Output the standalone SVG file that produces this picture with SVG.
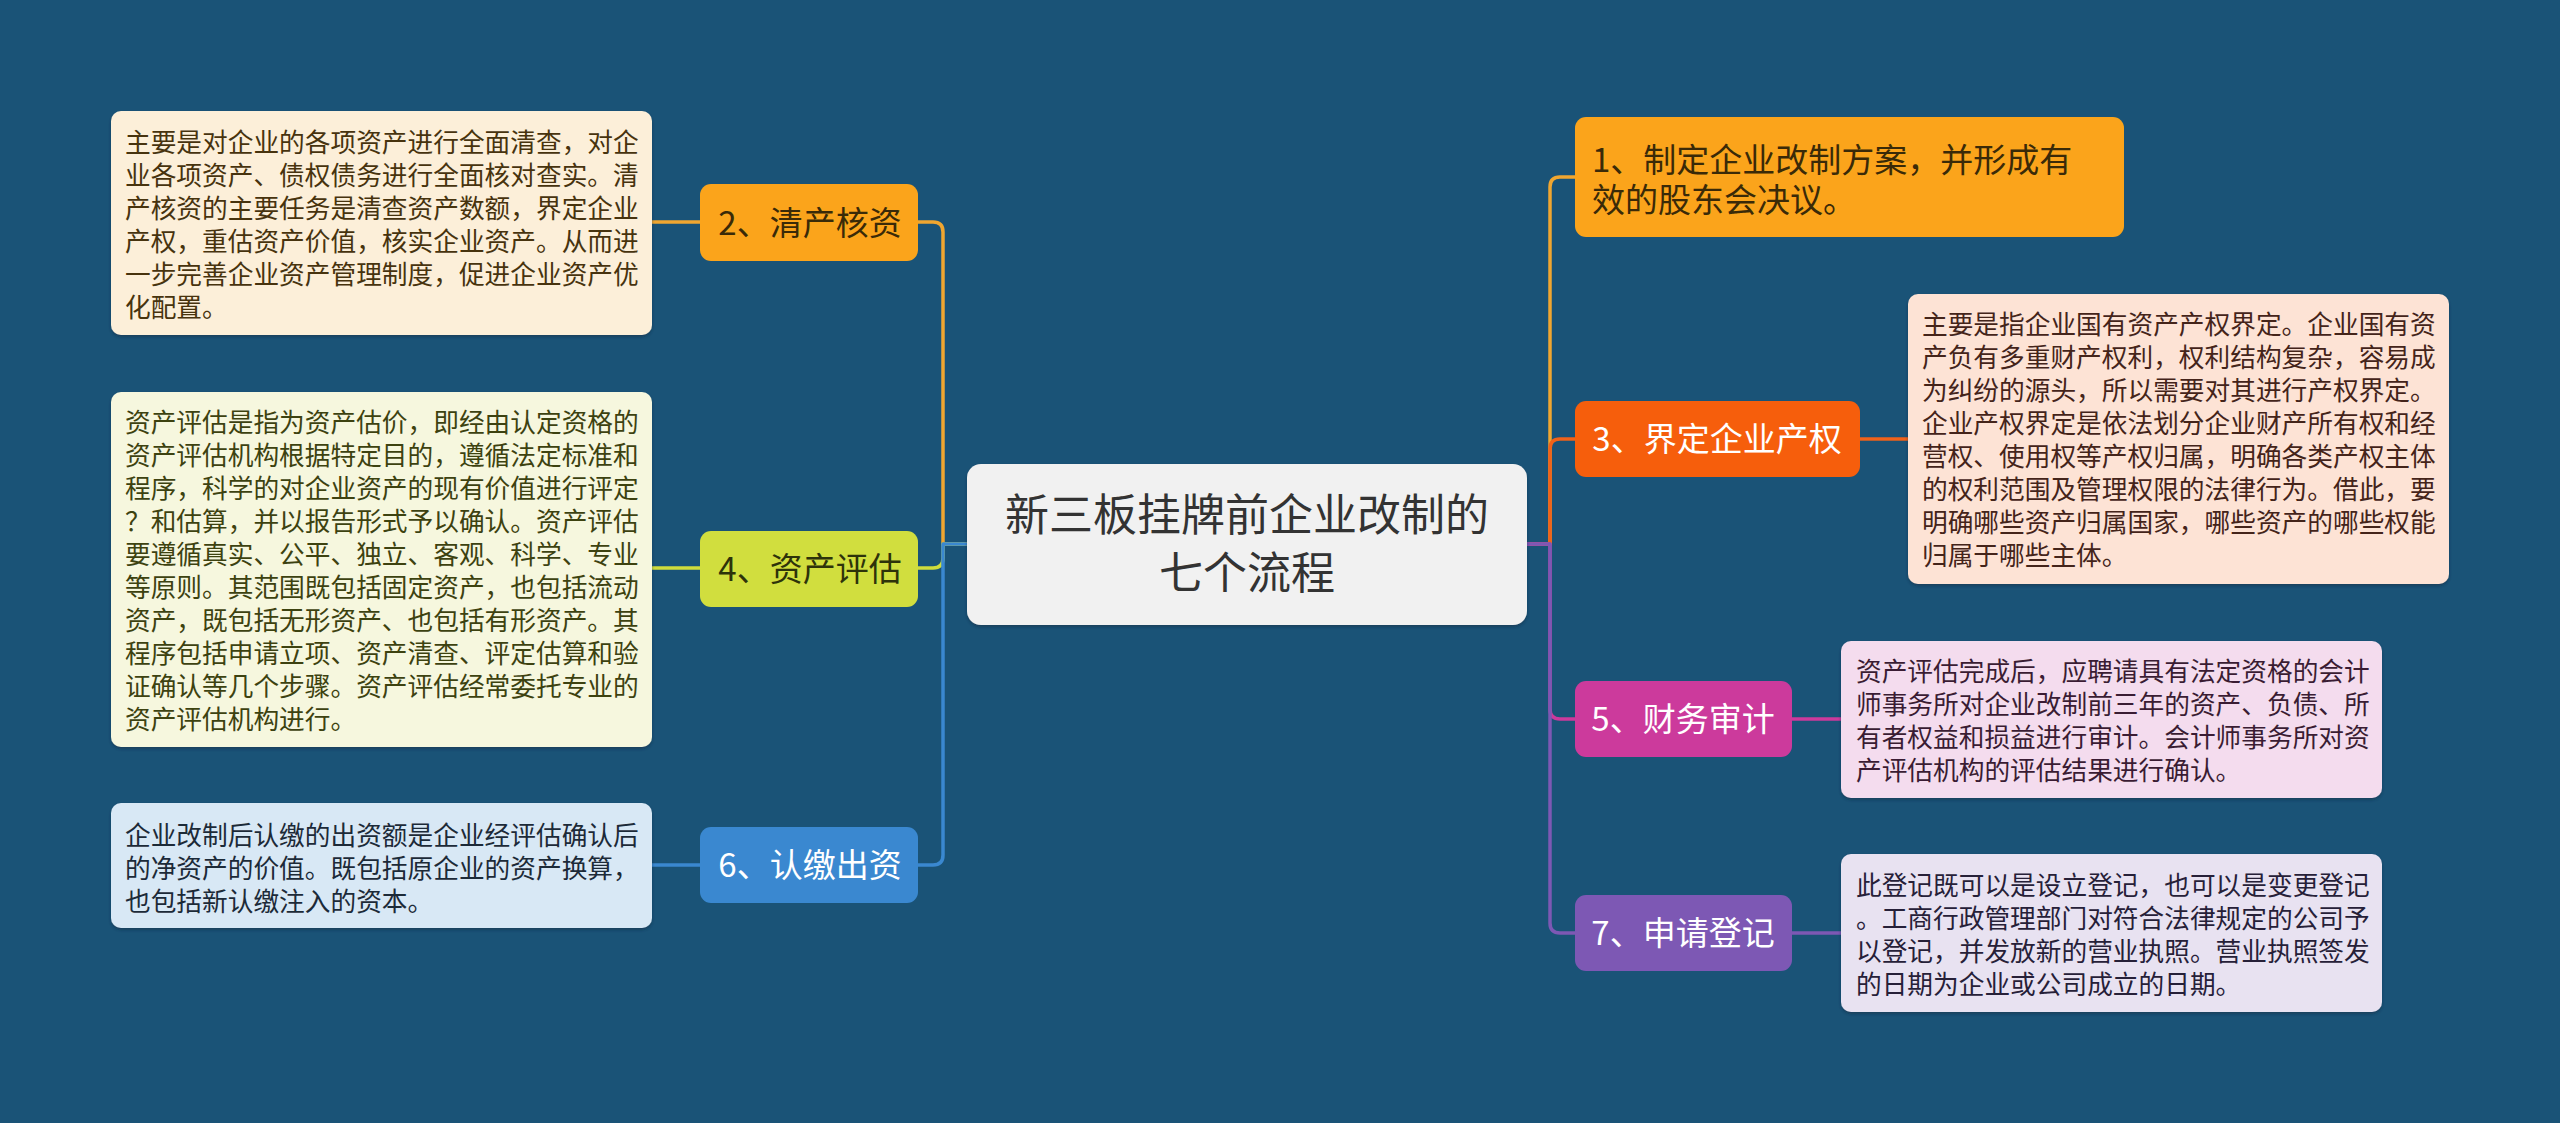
<svg xmlns="http://www.w3.org/2000/svg" width="2560" height="1123" viewBox="0 0 2560 1123">
<defs>
<filter id="sh" x="-5%" y="-5%" width="110%" height="115%"><feDropShadow dx="0" dy="2" stdDeviation="1.5" flood-color="#0a2a40" flood-opacity="0.5"/></filter>
</defs>
<style>
text{font-family:"Noto Sans CJK SC","Noto Sans",sans-serif;}
.desc{font-size:25.7px;}
.topic{font-size:33px;text-anchor:middle;}
.conn{fill:none;stroke-width:3.5;stroke-linecap:round;stroke-linejoin:round;}
</style>
<rect width="2560" height="1123" fill="#1a5377"/>
<g id="connectors">
<path class="conn" d="M966 544 H943 V232 Q943 222 933 222 H918" stroke="#f0a630"/>
<path class="conn" d="M966 544 H943 V558 Q943 568 933 568 H918" stroke="#cfdc3c"/>
<path class="conn" d="M966 544 H943 V855 Q943 865 933 865 H918" stroke="#3a88d0"/>
<path class="conn" d="M652 222 H700" stroke="#f0a630"/>
<path class="conn" d="M652 568 H700" stroke="#cfdc3c"/>
<path class="conn" d="M652 865 H700" stroke="#3a88d0"/>
<path class="conn" d="M1527 544 H1550 V187 Q1550 177 1560 177 H1575" stroke="#f0a630"/>
<path class="conn" d="M1527 544 H1550 V449 Q1550 439 1560 439 H1575" stroke="#f0621a"/>
<path class="conn" d="M1527 544 H1550 V709 Q1550 719 1560 719 H1575" stroke="#cc3a9c"/>
<path class="conn" d="M1527 544 H1550 V923 Q1550 933 1560 933 H1575" stroke="#7d58b4"/>
<path class="conn" d="M1860 439 H1908" stroke="#f0621a"/>
<path class="conn" d="M1792 719 H1841" stroke="#cc3a9c"/>
<path class="conn" d="M1792 933 H1841" stroke="#7d58b4"/>
</g>
<g id="center">
<rect x="967" y="464" width="560" height="161" rx="14" fill="#f1f1f1" filter="url(#sh)"/>
<text x="1247" y="531" font-size="44" text-anchor="middle" fill="#333333">新三板挂牌前企业改制的</text>
<text x="1247" y="589" font-size="44" text-anchor="middle" fill="#333333">七个流程</text>
</g>
<g id="topic2">
<rect x="700" y="184" width="218" height="77" rx="11" fill="#fba41b"/>
<text class="topic" x="810" y="235" fill="#3a2a08">2、清产核资</text>
</g>
<g id="desc2">
<rect x="111" y="111" width="541" height="224" rx="10" fill="#fcefd9" filter="url(#sh)"/>
<text class="desc" fill="#47330e"><tspan x="125" y="152">主要是对企业的各项资产进行全面清查，对企</tspan><tspan x="125" y="185">业各项资产、债权债务进行全面核对查实。清</tspan><tspan x="125" y="218">产核资的主要任务是清查资产数额，界定企业</tspan><tspan x="125" y="251">产权，重估资产价值，核实企业资产。从而进</tspan><tspan x="125" y="284">一步完善企业资产管理制度，促进企业资产优</tspan><tspan x="125" y="317">化配置。</tspan></text>
</g>
<g id="topic4">
<rect x="700" y="531" width="218" height="76" rx="11" fill="#d1de3e"/>
<text class="topic" x="810" y="581" fill="#2e330a">4、资产评估</text>
</g>
<g id="desc4">
<rect x="111" y="392" width="541" height="355" rx="10" fill="#f6f7de" filter="url(#sh)"/>
<text class="desc" fill="#3d4210"><tspan x="125" y="432">资产评估是指为资产估价，即经由认定资格的</tspan><tspan x="125" y="465">资产评估机构根据特定目的，遵循法定标准和</tspan><tspan x="125" y="498">程序，科学的对企业资产的现有价值进行评定</tspan><tspan x="125" y="531">？和估算，并以报告形式予以确认。资产评估</tspan><tspan x="125" y="564">要遵循真实、公平、独立、客观、科学、专业</tspan><tspan x="125" y="597">等原则。其范围既包括固定资产，也包括流动</tspan><tspan x="125" y="630">资产，既包括无形资产、也包括有形资产。其</tspan><tspan x="125" y="663">程序包括申请立项、资产清查、评定估算和验</tspan><tspan x="125" y="696">证确认等几个步骤。资产评估经常委托专业的</tspan><tspan x="125" y="729">资产评估机构进行。</tspan></text>
</g>
<g id="topic6">
<rect x="700" y="827" width="218" height="76" rx="11" fill="#3a88d0"/>
<text class="topic" x="810" y="877" fill="#ffffff">6、认缴出资</text>
</g>
<g id="desc6">
<rect x="111" y="803" width="541" height="125" rx="10" fill="#d8e8f5" filter="url(#sh)"/>
<text class="desc" fill="#1c2a38"><tspan x="125" y="845">企业改制后认缴的出资额是企业经评估确认后</tspan><tspan x="125" y="878">的净资产的价值。既包括原企业的资产换算，</tspan><tspan x="125" y="911">也包括新认缴注入的资本。</tspan></text>
</g>
<g id="topic1">
<rect x="1575" y="117" width="549" height="120" rx="11" fill="#fba41b"/>
<text font-size="33" fill="#3a2a08"><tspan x="1592" y="172">1、制定企业改制方案，并形成有</tspan><tspan x="1592" y="212">效的股东会决议。</tspan></text>
</g>
<g id="topic3">
<rect x="1575" y="401" width="285" height="76" rx="11" fill="#f65e0c"/>
<text class="topic" x="1717" y="451" fill="#ffffff">3、界定企业产权</text>
</g>
<g id="desc3">
<rect x="1908" y="294" width="541" height="290" rx="10" fill="#fde3d5" filter="url(#sh)"/>
<text class="desc" fill="#44241a"><tspan x="1922" y="334">主要是指企业国有资产产权界定。企业国有资</tspan><tspan x="1922" y="367">产负有多重财产权利，权利结构复杂，容易成</tspan><tspan x="1922" y="400">为纠纷的源头，所以需要对其进行产权界定。</tspan><tspan x="1922" y="433">企业产权界定是依法划分企业财产所有权和经</tspan><tspan x="1922" y="466">营权、使用权等产权归属，明确各类产权主体</tspan><tspan x="1922" y="499">的权利范围及管理权限的法律行为。借此，要</tspan><tspan x="1922" y="532">明确哪些资产归属国家，哪些资产的哪些权能</tspan><tspan x="1922" y="565">归属于哪些主体。</tspan></text>
</g>
<g id="topic5">
<rect x="1575" y="681" width="217" height="76" rx="11" fill="#cc3a9c"/>
<text class="topic" x="1683" y="731" fill="#ffffff">5、财务审计</text>
</g>
<g id="desc5">
<rect x="1841" y="641" width="541" height="157" rx="10" fill="#f4dcee" filter="url(#sh)"/>
<text class="desc" fill="#3a1c33"><tspan x="1856" y="681">资产评估完成后，应聘请具有法定资格的会计</tspan><tspan x="1856" y="714">师事务所对企业改制前三年的资产、负债、所</tspan><tspan x="1856" y="747">有者权益和损益进行审计。会计师事务所对资</tspan><tspan x="1856" y="780">产评估机构的评估结果进行确认。</tspan></text>
</g>
<g id="topic7">
<rect x="1575" y="895" width="217" height="76" rx="11" fill="#7d58b4"/>
<text class="topic" x="1683" y="945" fill="#ffffff">7、申请登记</text>
</g>
<g id="desc7">
<rect x="1841" y="854" width="541" height="158" rx="10" fill="#e8e2f1" filter="url(#sh)"/>
<text class="desc" fill="#262038"><tspan x="1856" y="895">此登记既可以是设立登记，也可以是变更登记</tspan><tspan x="1856" y="928">。工商行政管理部门对符合法律规定的公司予</tspan><tspan x="1856" y="961">以登记，并发放新的营业执照。营业执照签发</tspan><tspan x="1856" y="994">的日期为企业或公司成立的日期。</tspan></text>
</g>
</svg>
